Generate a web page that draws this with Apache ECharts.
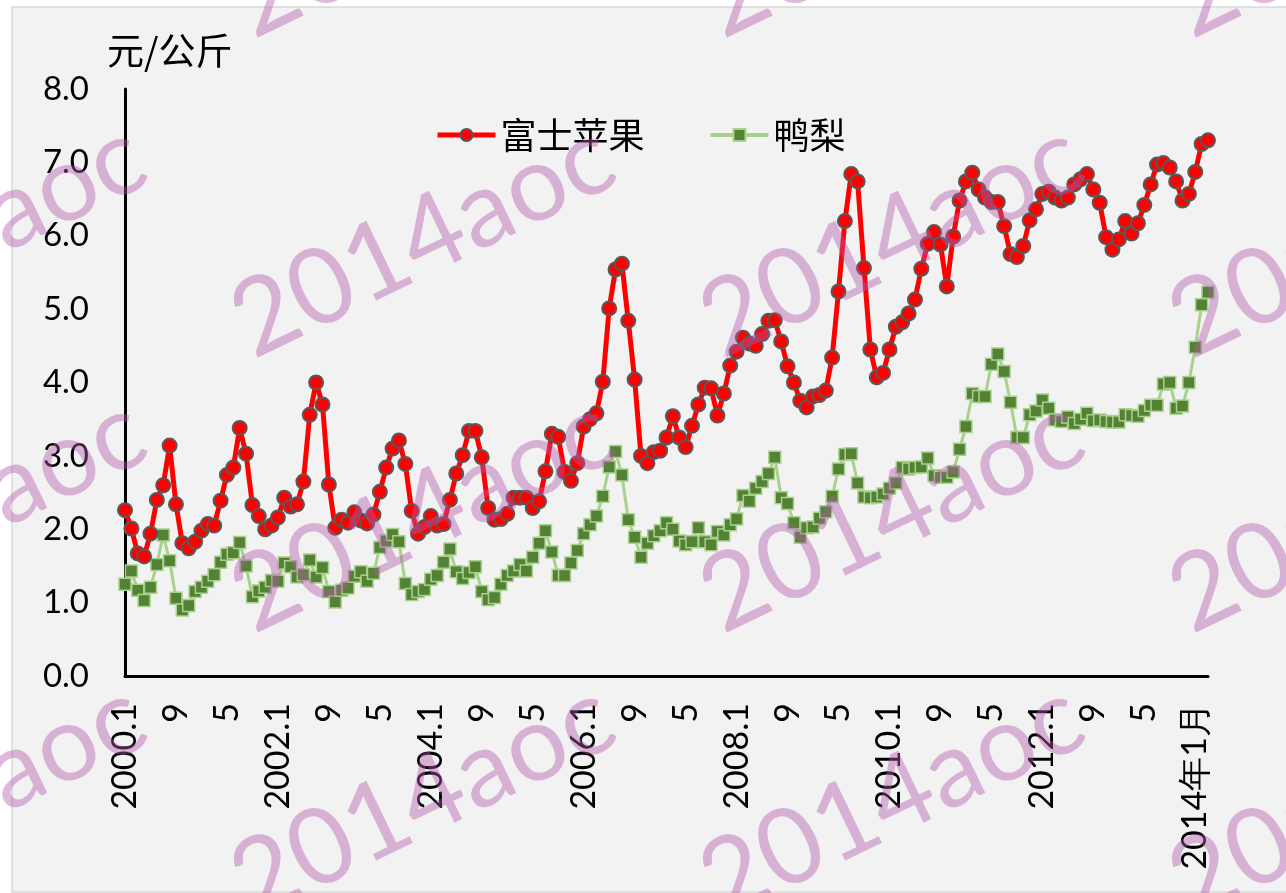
<!DOCTYPE html>
<html>
<head>
<meta charset="utf-8">
<script src="https://cdn.jsdelivr.net/npm/echarts@6/dist/echarts.min.js"></script>
<style>html,body{margin:0;padding:0;background:#fff}#main{width:1286px;height:893px}</style>
</head>
<body>
<div id="main"></div>
<script>
var chart = echarts.init(document.getElementById('main'));

var seriesNames = ['富士苹果', '鸭梨'];
var unitName = '元/公斤';

// 富士苹果, monthly 2000.1 - 2014.3
var fuji = [
  2.26, 2.01, 1.67, 1.63, 1.94, 2.40, 2.60, 3.14, 2.34, 1.81, 1.74, 1.83,
  1.98, 2.07, 2.05, 2.39, 2.74, 2.84, 3.38, 3.03, 2.33, 2.18, 2.00, 2.05,
  2.16, 2.43, 2.31, 2.34, 2.65, 3.56, 4.00, 3.70, 2.61, 2.02, 2.13, 2.09,
  2.23, 2.12, 2.08, 2.20, 2.51, 2.84, 3.10, 3.21, 2.89, 2.25, 1.94, 2.03,
  2.18, 2.05, 2.07, 2.40, 2.76, 3.01, 3.34, 3.34, 2.98, 2.29, 2.13, 2.14,
  2.21, 2.43, 2.43, 2.43, 2.29, 2.38, 2.79, 3.30, 3.26, 2.78, 2.66, 2.90,
  3.40, 3.50, 3.58, 4.01, 5.01, 5.54, 5.62, 4.84, 4.04, 3.00, 2.90, 3.05,
  3.07, 3.25, 3.54, 3.25, 3.12, 3.41, 3.70, 3.93, 3.92, 3.55, 3.85, 4.23,
  4.42, 4.61, 4.53, 4.50, 4.66, 4.84, 4.85, 4.56, 4.22, 4.00, 3.75, 3.66,
  3.81, 3.83, 3.89, 4.34, 5.24, 6.20, 6.84, 6.74, 5.56, 4.45, 4.07, 4.13,
  4.45, 4.76, 4.82, 4.94, 5.13, 5.55, 5.89, 6.05, 5.88, 5.31, 5.99, 6.48,
  6.74, 6.86, 6.63, 6.52, 6.46, 6.46, 6.13, 5.75, 5.71, 5.86, 6.21, 6.36,
  6.57, 6.60, 6.52, 6.48, 6.52, 6.70, 6.77, 6.84, 6.63, 6.45, 5.98, 5.81,
  5.95, 6.20, 6.03, 6.17, 6.42, 6.70, 6.97, 6.99, 6.93, 6.74, 6.48, 6.57,
  6.87, 7.25, 7.30
];

// 鸭梨
var yali = [
  1.25, 1.43, 1.17, 1.03, 1.21, 1.52, 1.92, 1.57, 1.06, 0.90, 0.96, 1.15,
  1.21, 1.29, 1.38, 1.55, 1.66, 1.68, 1.82, 1.50, 1.08, 1.16, 1.21, 1.30,
  1.29, 1.54, 1.49, 1.35, 1.38, 1.58, 1.35, 1.48, 1.15, 1.01, 1.17, 1.20,
  1.36, 1.42, 1.29, 1.40, 1.75, 1.84, 1.93, 1.83, 1.26, 1.11, 1.15, 1.18,
  1.32, 1.37, 1.55, 1.73, 1.42, 1.33, 1.41, 1.49, 1.15, 1.04, 1.07, 1.25,
  1.37, 1.43, 1.52, 1.43, 1.62, 1.81, 1.98, 1.69, 1.37, 1.37, 1.54, 1.71,
  1.94, 2.06, 2.18, 2.45, 2.85, 3.06, 2.74, 2.13, 1.89, 1.62, 1.81, 1.91,
  1.98, 2.09, 2.00, 1.84, 1.79, 1.83, 2.02, 1.83, 1.79, 1.97, 1.92, 2.06,
  2.14, 2.46, 2.38, 2.56, 2.65, 2.76, 2.98, 2.43, 2.35, 2.09, 1.89, 2.02,
  2.03, 2.15, 2.24, 2.45, 2.82, 3.02, 3.03, 2.63, 2.44, 2.43, 2.44, 2.48,
  2.56, 2.63, 2.84, 2.82, 2.84, 2.85, 2.97, 2.73, 2.71, 2.71, 2.78, 3.09,
  3.40, 3.85, 3.81, 3.81, 4.25, 4.39, 4.15, 3.73, 3.25, 3.25, 3.56, 3.61,
  3.76, 3.65, 3.49, 3.47, 3.53, 3.44, 3.50, 3.58, 3.48, 3.49, 3.47, 3.46,
  3.46, 3.56, 3.55, 3.54, 3.62, 3.69, 3.69, 3.98, 4.00, 3.65, 3.68, 4.00,
  4.48, 5.06, 5.23
];

// month categories 2000.1 ... 2014.3
var months = [];
for (var yr = 2000; yr <= 2014; yr++) {
  for (var mo = 1; mo <= 12; mo++) {
    if (yr == 2014 && mo > 3) break;
    months.push(yr + '.' + mo);
  }
}

// watermark grid
var wmX = [-46, 423, 892, 1361];
var wmY = [-80, 240, 515, 800];
var graphics = [{
  type: 'rect', z: -100, silent: true,
  shape: { x: 12, y: 7, width: 1290, height: 885 },
  style: { fill: '#f2f2f2', stroke: '#d9d9d9', lineWidth: 1.5 }
}];
wmY.forEach(function (wy) {
  wmX.forEach(function (wx) {
    graphics.push({
      type: 'text', x: wx, y: wy, rotation: 0.45, z: 100, silent: true,
      style: {
        text: '2014aoc', x: 0, y: 0, align: 'center', verticalAlign: 'middle',
        font: '106px Lato', fill: 'rgba(177,87,172,0.42)'
      }
    });
  });
});

var option = {
  backgroundColor: '#ffffff',
  animation: false,
  title: {
    text: unitName,
    left: 102, top: 27,
    textStyle: { fontSize: 37, fontWeight: 'normal', fontFamily: 'Noto Sans CJK SC', color: '#000' }
  },
  legend: {
    left: 430, top: 112,
    itemWidth: 58, itemHeight: 15, itemGap: 64,
    data: [
      { name: seriesNames[0], lineStyle: { width: 5 } },
      { name: seriesNames[1], lineStyle: { width: 4 } }
    ],
    textStyle: { fontSize: 36, fontFamily: 'Noto Sans CJK SC', color: '#000' }
  },
  grid: { left: 125, right: 78, top: 89, bottom: 217 },
  xAxis: {
    type: 'category',
    boundaryGap: false,
    data: months,
    axisLine: { lineStyle: { color: '#000', width: 3 } },
    axisTick: { show: false },
    axisLabel: {
      interval: 7, rotate: 90, margin: 27,
      fontSize: 34, fontFamily: 'Lato', color: '#000',
      formatter: function (v) {
        var p = v.split('.');
        if (p[1] == '1') return p[0] == '2014' ? '2014年1月' : v;
        return p[1];
      }
    }
  },
  yAxis: {
    type: 'value',
    min: 0, max: 8, interval: 1,
    axisLine: { show: true, lineStyle: { color: '#000', width: 3 } },
    axisTick: { show: false },
    splitLine: { show: false },
    axisLabel: {
      margin: 36, fontSize: 33, fontFamily: 'Lato', color: '#000',
      formatter: function (v) { return v.toFixed(1); }
    }
  },
  series: [{
    name: seriesNames[0],
    type: 'line',
    data: fuji,
    symbol: 'circle',
    symbolSize: 14,
    showAllSymbol: true,
    lineStyle: { color: '#ff0000', width: 5 },
    itemStyle: { color: '#ff0000', borderColor: '#595959', borderWidth: 2 },
    z: 4
  }, {
    name: seriesNames[1],
    type: 'line',
    data: yali,
    symbol: 'rect',
    symbolSize: 12,
    showAllSymbol: true,
    lineStyle: { color: '#a9d18e', width: 3 },
    itemStyle: { color: '#548235', borderColor: '#a9d18e', borderWidth: 1.5 },
    z: 3
  }],
  graphic: graphics
};

chart.setOption(option);
</script>
</body>
</html>
